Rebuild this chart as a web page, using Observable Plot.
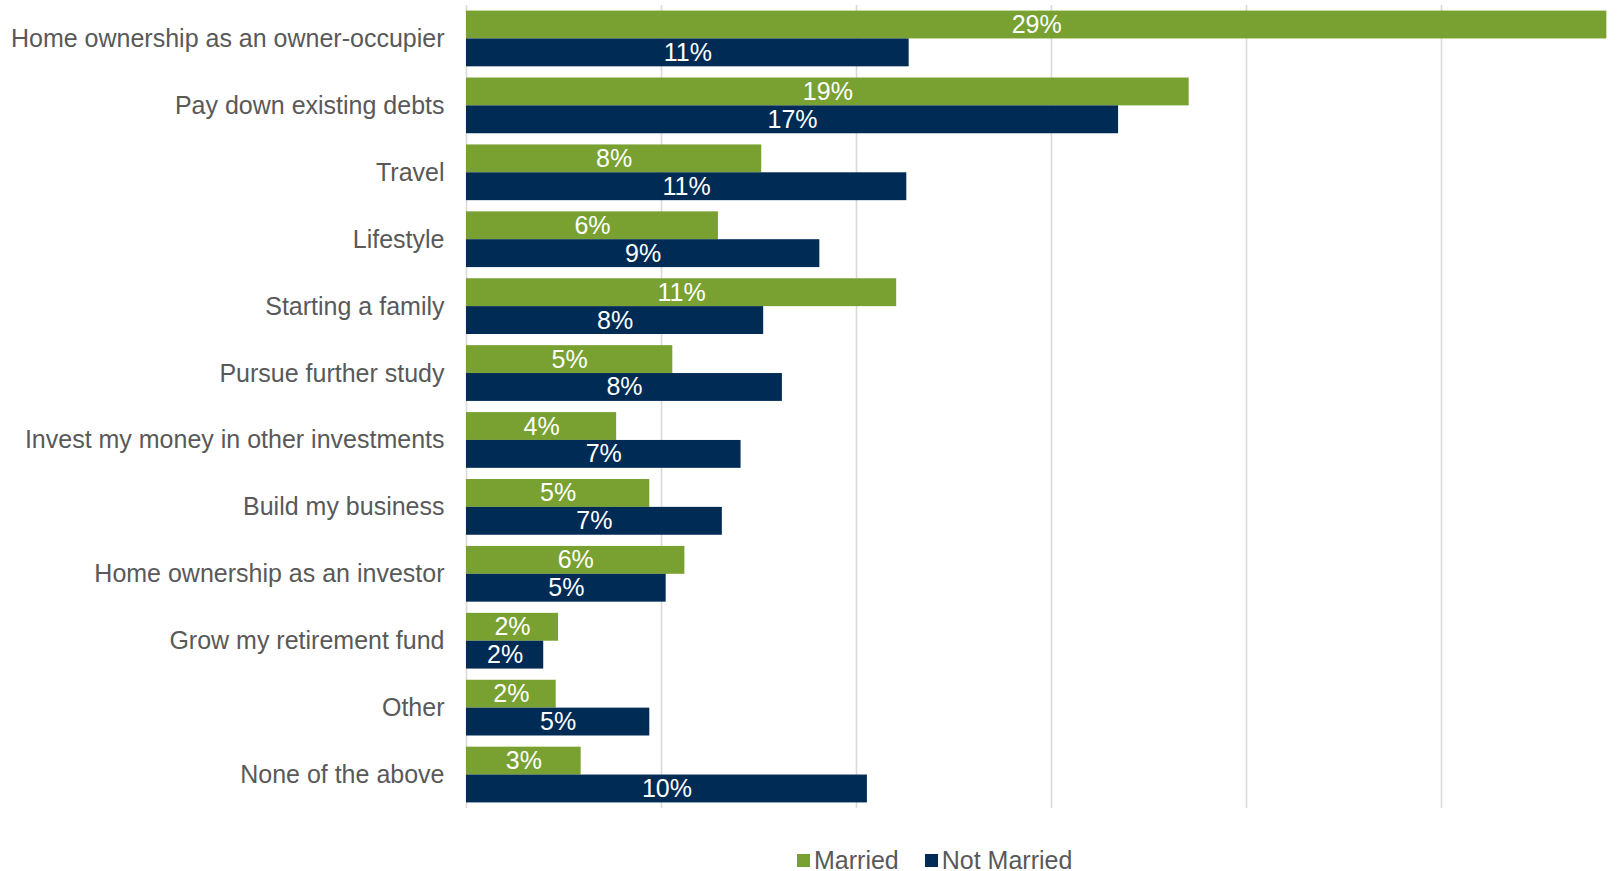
<!DOCTYPE html>
<html>
<head>
<meta charset="utf-8">
<script src="https://cdn.jsdelivr.net/npm/d3@7"></script>
<script src="https://cdn.jsdelivr.net/npm/@observablehq/plot@0.6"></script>
<style>
  html, body { margin: 0; padding: 0; background: #fff; }
  #wrap { position: relative; width: 1618px; height: 871px; font-family: "Liberation Sans", Arial, sans-serif; }
  #legend { position: absolute; left: 797px; top: 845px; display: flex; align-items: center; font-size: 25px; color: #595959; line-height: 30px; }
  .item { display: flex; align-items: center; margin-right: 26px; }
  .sw { width: 13px; height: 13px; margin-right: 4px; }
</style>
</head>
<body>
<div id="wrap">
  <div id="chart"></div>
  <div id="legend"></div>
</div>
<script>
const categories = [
  "Home ownership as an owner-occupier",
  "Pay down existing debts",
  "Travel",
  "Lifestyle",
  "Starting a family",
  "Pursue further study",
  "Invest my money in other investments",
  "Build my business",
  "Home ownership as an investor",
  "Grow my retirement fund",
  "Other",
  "None of the above"
];
const married    = [29.24, 18.53, 7.57, 6.46, 11.03, 5.29, 3.85, 4.70, 5.60, 2.36, 2.30, 2.94];
const notMarried = [11.35, 16.72, 11.29, 9.06, 7.62, 8.10, 7.04, 6.56, 5.12, 1.98, 4.70, 10.28];
const seriesNames = ["Married", "Not Married"];
const seriesColors = ["#78A132", "#002B55"];
const gridTicks = [0, 5, 10, 15, 20, 25];

const rowsM = categories.map((c, i) => ({category: c, value: married[i]}));
const rowsN = categories.map((c, i) => ({category: c, value: notMarried[i]}));

const width = 1618, height = 812, marginTop = 5, marginBottom = 4, marginLeft = 466, marginRight = 0;
const padInner = 0.167, padOuter = padInner / 2;
const step = (height - marginTop - marginBottom) / (categories.length - padInner + 2 * padOuter);
const bw = step * (1 - padInner);

const fmt = v => Math.round(v) + "%";

const chart = Plot.plot({
  width, height, marginTop, marginBottom, marginLeft, marginRight,
  style: {fontFamily: "'Liberation Sans', Arial, sans-serif", fontSize: "25px", background: "white"},
  x: {domain: [0, (width - marginLeft - marginRight) / 39.0], axis: null},
  y: {domain: categories, paddingInner: padInner, paddingOuter: padOuter, round: false, axis: null},
  marks: [
    Plot.ruleX(gridTicks, {stroke: "#d9d9d9", strokeWidth: 1.6}),
    Plot.barX(rowsM, {y: "category", x: "value", fill: seriesColors[0], insetBottom: bw / 2}),
    Plot.barX(rowsN, {y: "category", x: "value", fill: seriesColors[1], insetTop: bw / 2}),
    Plot.text(rowsM, {y: "category", x: d => d.value / 2, text: d => fmt(d.value), fill: "white", dy: -bw / 4, fontSize: 25}),
    Plot.text(rowsN, {y: "category", x: d => d.value / 2, text: d => fmt(d.value), fill: "white", dy: bw / 4, fontSize: 25}),
    Plot.axisY({tickSize: 0, tickPadding: 22, fontSize: 25, color: "#595959", fill: "#595959", label: null})
  ]
});
document.getElementById("chart").appendChild(chart);

const legend = document.getElementById("legend");
seriesNames.forEach((name, i) => {
  const item = document.createElement("div");
  item.className = "item";
  const sw = document.createElement("div");
  sw.className = "sw";
  sw.style.background = seriesColors[i];
  const t = document.createElement("span");
  t.textContent = name;
  item.appendChild(sw);
  item.appendChild(t);
  legend.appendChild(item);
});
</script>
</body>
</html>
